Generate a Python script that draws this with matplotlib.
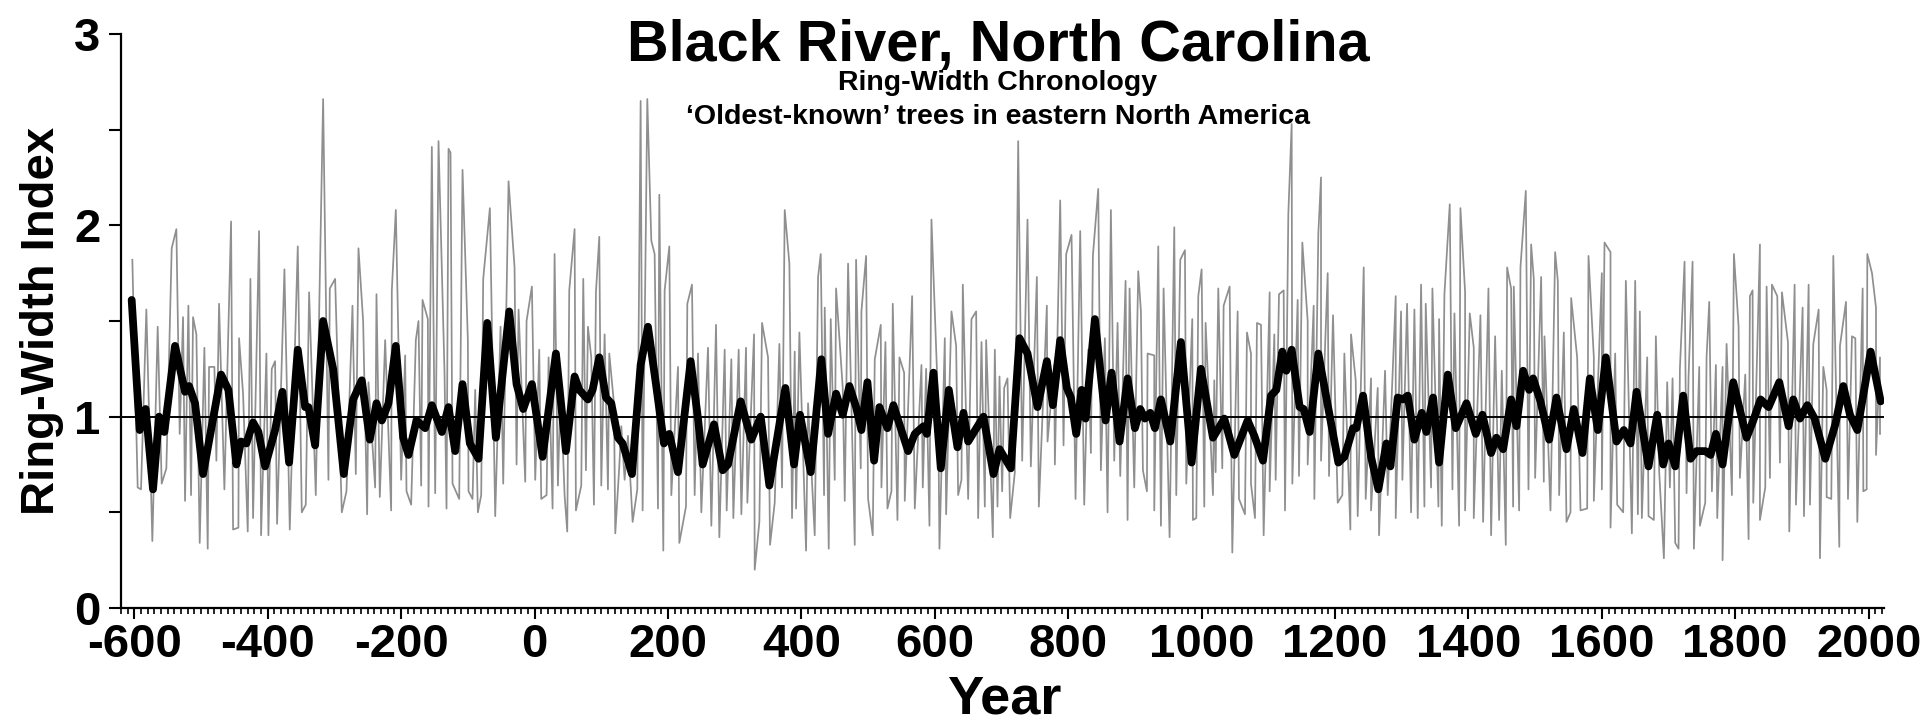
"""Black River, North Carolina ring-width chronology (annual + smoothed)."""

import numpy as np
import matplotlib
matplotlib.use("Agg")
import matplotlib.pyplot as plt
from matplotlib.ticker import MultipleLocator

plt.rcParams["font.family"] = ["Liberation Sans", "DejaVu Sans"]
plt.rcParams["font.weight"] = "bold"

# Smoothed chronology (thick black line), read at turning points
smooth_years = [
    -604, -592, -583, -572, -563, -555, -539, -524, -518, -509, -497, -482,
    -470, -459, -447, -440, -432, -422, -414, -404, -389, -378, -368, -355,
    -344, -339, -329, -317, -302, -286, -272, -259, -247, -237, -229, -219,
    -208, -197, -189, -177, -164, -154, -139, -129, -119, -108, -97, -84,
    -71, -58, -38, -27, -17, -4, 12, 32, 47, 60, 67, 80, 87, 97, 107, 115,
    125, 132, 146, 159, 170, 182, 194, 202, 215, 234, 245, 252, 269, 282,
    290, 309, 325, 339, 352, 376, 389, 398, 414, 430, 440, 452, 462, 472,
    482, 490, 499, 509, 517, 529, 538, 548, 560, 570, 583, 588, 598, 609,
    621, 634, 643, 650, 673, 688, 697, 714, 727, 739, 754, 768, 777, 788,
    798, 804, 812, 820, 826, 840, 856, 865, 877, 889, 900, 908, 915, 923,
    930, 939, 953, 969, 985, 999, 1017, 1034, 1049, 1069, 1079, 1092, 1104,
    1112, 1121, 1127, 1135, 1147, 1153, 1162, 1175, 1188, 1205, 1214, 1227,
    1232, 1242, 1254, 1265, 1277, 1283, 1294, 1302, 1309, 1319, 1330, 1337,
    1347, 1356, 1369, 1381, 1397, 1411, 1421, 1434, 1442, 1452, 1464, 1472,
    1482, 1491, 1497, 1508, 1521, 1532, 1547, 1558, 1571, 1582, 1594, 1606,
    1622, 1633, 1643, 1652, 1670, 1683, 1692, 1700, 1710, 1722, 1733, 1742,
    1755, 1763, 1771, 1781, 1797, 1817, 1827, 1838, 1850, 1866, 1880, 1887,
    1897, 1908, 1919, 1935, 1950, 1962, 1972, 1983, 2003, 2018,
]
smooth_vals = [
    1.61, 0.93, 1.04, 0.62, 1.00, 0.92, 1.37, 1.13, 1.16, 1.07, 0.70, 0.99,
    1.22, 1.14, 0.75, 0.87, 0.86, 0.97, 0.92, 0.74, 0.93, 1.13, 0.76, 1.35,
    1.05, 1.05, 0.85, 1.50, 1.25, 0.70, 1.09, 1.19, 0.88, 1.07, 0.98, 1.07,
    1.37, 0.89, 0.80, 0.98, 0.94, 1.06, 0.92, 1.05, 0.82, 1.17, 0.86, 0.78,
    1.49, 0.89, 1.55, 1.17, 1.04, 1.17, 0.79, 1.33, 0.82, 1.21, 1.14, 1.09,
    1.14, 1.31, 1.10, 1.07, 0.89, 0.86, 0.70, 1.27, 1.47, 1.17, 0.86, 0.91,
    0.71, 1.29, 0.99, 0.75, 0.96, 0.72, 0.75, 1.08, 0.88, 1.00, 0.64, 1.15,
    0.75, 1.01, 0.71, 1.30, 0.91, 1.12, 1.01, 1.16, 1.05, 0.93, 1.18, 0.77,
    1.05, 0.94, 1.06, 0.95, 0.82, 0.91, 0.95, 0.91, 1.23, 0.73, 1.14, 0.84,
    1.02, 0.87, 1.00, 0.70, 0.83, 0.73, 1.41, 1.33, 1.05, 1.29, 1.06, 1.40,
    1.15, 1.10, 0.91, 1.14, 0.99, 1.51, 0.98, 1.23, 0.87, 1.20, 0.94, 1.04,
    0.99, 1.02, 0.94, 1.09, 0.87, 1.39, 0.76, 1.25, 0.89, 0.99, 0.80, 0.98,
    0.90, 0.77, 1.11, 1.14, 1.34, 1.24, 1.35, 1.05, 1.04, 0.92, 1.33, 1.08,
    0.76, 0.79, 0.94, 0.94, 1.11, 0.79, 0.62, 0.86, 0.74, 1.10, 1.09, 1.11,
    0.88, 1.02, 0.92, 1.10, 0.76, 1.22, 0.94, 1.07, 0.91, 1.01, 0.81, 0.89,
    0.83, 1.09, 0.95, 1.24, 1.14, 1.20, 1.08, 0.88, 1.10, 0.83, 1.04, 0.81,
    1.20, 0.93, 1.31, 0.87, 0.93, 0.86, 1.13, 0.74, 1.01, 0.75, 0.86, 0.74,
    1.11, 0.78, 0.82, 0.82, 0.80, 0.91, 0.75, 1.18, 0.89, 0.98, 1.09, 1.05,
    1.18, 0.95, 1.09, 0.99, 1.06, 0.99, 0.78, 0.96, 1.16, 1.01, 0.93, 1.34,
    1.08,
]

# Annual series (thin grey line): upward spikes
peak_years = [
    -603, -582, -565, -544, -537, -527, -519, -512, -507, -495, -488, -480,
    -473, -455, -443, -437, -426, -413, -402, -394, -389, -375, -355, -338,
    -317, -307, -299, -273, -264, -257, -249, -237, -224, -214, -208, -194,
    -178, -174, -168, -160, -154, -144, -135, -129, -126, -108, -100, -89,
    -77, -67, -51, -39, -30, -24, -12, -4, 7, 21, 30, 39, 52, 60, 73, 80,
    85, 92, 97, 105, 112, 119, 130, 140, 159, 169, 175, 180, 187, 195, 202,
    215, 229, 236, 245, 260, 272, 285, 295, 306, 317, 329, 341, 350, 367,
    375, 382, 390, 397, 410, 425, 429, 435, 444, 452, 462, 470, 482, 490,
    497, 510, 519, 526, 537, 547, 554, 566, 580, 587, 595, 605, 615, 625,
    632, 642, 655, 662, 670, 677, 690, 697, 704, 709, 725, 739, 753, 768,
    779, 788, 797, 805, 818, 830, 837, 845, 855, 864, 874, 886, 892, 905,
    909, 919, 929, 935, 943, 959, 968, 975, 986, 995, 1000, 1006, 1019,
    1025, 1033, 1042, 1054, 1068, 1074, 1083, 1089, 1102, 1109, 1116, 1123,
    1130, 1135, 1144, 1151, 1159, 1168, 1175, 1179, 1189, 1197, 1214, 1224,
    1231, 1243, 1254, 1264, 1275, 1291, 1299, 1308, 1319, 1329, 1336, 1346,
    1356, 1364, 1372, 1379, 1388, 1395, 1402, 1408, 1418, 1430, 1440, 1450,
    1458, 1464, 1468, 1478, 1486, 1494, 1498, 1509, 1514, 1530, 1534, 1543,
    1554, 1563, 1580, 1588, 1600, 1604, 1613, 1620, 1636, 1650, 1657, 1668,
    1681, 1698, 1706, 1717, 1724, 1730, 1736, 1746, 1757, 1761, 1771, 1781,
    1787, 1798, 1805, 1815, 1822, 1826, 1837, 1847, 1855, 1863, 1870, 1879,
    1889, 1901, 1910, 1917, 1925, 1932, 1937, 1947, 1957, 1966, 1975, 1980,
    1991, 1998, 2005, 2011, 2017,
]
peak_vals = [
    1.82, 1.56, 1.47, 1.88, 1.98, 1.52, 1.58, 1.52, 1.43, 1.36, 1.26, 1.26,
    1.59, 2.02, 1.41, 1.12, 1.72, 1.97, 1.33, 1.25, 1.29, 1.77, 1.89, 1.65,
    2.66, 1.67, 1.72, 1.58, 1.88, 1.50, 1.18, 1.64, 1.40, 1.66, 2.08, 1.32,
    1.40, 1.50, 1.61, 1.51, 2.41, 2.44, 1.23, 2.40, 2.38, 2.29, 1.40, 1.14,
    1.72, 2.09, 1.47, 2.23, 1.78, 1.56, 1.50, 1.68, 1.35, 1.31, 1.85, 1.16,
    1.66, 1.98, 1.72, 1.47, 1.31, 1.65, 1.94, 1.43, 1.33, 1.07, 0.95, 0.90,
    2.65, 2.66, 1.92, 1.85, 2.16, 1.66, 1.89, 1.26, 1.59, 1.69, 1.33, 1.36,
    1.48, 1.35, 1.30, 1.35, 1.36, 1.43, 1.49, 1.31, 1.38, 2.08, 1.80, 1.34,
    1.44, 1.07, 1.73, 1.85, 1.57, 1.51, 1.67, 1.15, 1.80, 1.82, 1.55, 1.84,
    1.30, 1.48, 1.39, 1.59, 1.31, 1.23, 1.63, 1.27, 1.25, 2.03, 1.07, 1.41,
    1.55, 1.37, 1.69, 1.51, 1.55, 1.39, 1.40, 1.35, 1.21, 1.15, 1.20, 2.44,
    2.03, 1.73, 1.58, 1.27, 2.13, 1.85, 1.95, 1.97, 1.35, 1.84, 2.19, 1.41,
    2.08, 1.49, 1.71, 1.67, 1.76, 1.55, 1.33, 1.32, 1.89, 1.67, 1.99, 1.82,
    1.87, 1.51, 1.63, 1.77, 1.49, 1.19, 1.67, 1.58, 1.68, 1.55, 1.44, 1.33,
    1.49, 1.48, 1.65, 1.43, 1.64, 1.66, 2.06, 2.53, 1.61, 1.91, 1.50, 1.58,
    1.96, 2.25, 1.75, 1.53, 1.33, 1.43, 1.19, 1.78, 1.20, 1.15, 1.24, 1.63,
    1.55, 1.59, 1.56, 1.69, 1.59, 1.67, 1.51, 1.64, 2.11, 1.54, 2.09, 1.65,
    1.54, 1.36, 1.53, 1.67, 1.42, 1.24, 1.78, 1.67, 1.68, 1.78, 2.18, 1.90,
    1.72, 1.73, 1.42, 1.86, 1.71, 1.44, 1.62, 1.31, 1.84, 1.31, 1.75, 1.91,
    1.86, 1.33, 1.71, 1.71, 1.55, 1.31, 1.42, 1.18, 1.20, 1.25, 1.81, 1.21,
    1.81, 1.26, 1.31, 1.60, 1.27, 1.26, 1.38, 1.85, 1.47, 1.22, 1.63, 1.66,
    1.90, 1.68, 1.69, 1.63, 1.65, 1.39, 1.69, 1.57, 1.69, 1.38, 1.56, 1.26,
    1.14, 1.84, 1.37, 1.60, 1.42, 1.41, 1.67, 1.85, 1.75, 1.57, 1.31,
]

# Annual series: downward spikes
trough_years = [
    -595, -590, -573, -559, -552, -532, -524, -515, -502, -490, -477, -465,
    -452, -444, -430, -422, -410, -399, -386, -367, -349, -343, -328, -309,
    -289, -282, -268, -251, -239, -232, -215, -200, -192, -185, -170, -159,
    -149, -132, -123, -113, -99, -93, -85, -80, -59, -47, -27, -14, 1, 10,
    18, 27, 35, 45, 49, 62, 70, 77, 89, 100, 110, 121, 127, 135, 147, 154,
    162, 185, 193, 205, 217, 227, 240, 250, 265, 277, 288, 298, 310, 319,
    330, 337, 353, 360, 371, 386, 392, 407, 420, 434, 441, 450, 465, 480,
    489, 500, 507, 520, 529, 535, 544, 555, 570, 582, 592, 607, 617, 635,
    640, 650, 665, 675, 687, 694, 701, 713, 720, 731, 744, 756, 769, 780,
    793, 811, 824, 834, 849, 859, 869, 878, 889, 899, 912, 918, 929, 939,
    952, 962, 977, 987, 992, 1004, 1017, 1021, 1031, 1046, 1056, 1065, 1074,
    1080, 1093, 1102, 1111, 1125, 1136, 1146, 1159, 1169, 1179, 1191, 1204,
    1211, 1223, 1234, 1246, 1254, 1266, 1279, 1291, 1301, 1314, 1324, 1334,
    1344, 1355, 1360, 1376, 1386, 1395, 1408, 1422, 1434, 1446, 1456, 1467,
    1476, 1490, 1500, 1513, 1523, 1536, 1547, 1553, 1568, 1578, 1588, 1600,
    1613, 1623, 1632, 1645, 1654, 1660, 1670, 1678, 1686, 1693, 1702, 1710,
    1715, 1727, 1738, 1747, 1755, 1765, 1773, 1781, 1795, 1807, 1820, 1827,
    1837, 1845, 1852, 1867, 1881, 1891, 1903, 1912, 1927, 1937, 1944, 1956,
    1969, 1983, 1992, 1997, 2011, 2017,
]
trough_vals = [
    0.63, 0.62, 0.35, 0.65, 0.73, 0.91, 0.56, 0.59, 0.34, 0.31, 0.77, 0.62,
    0.41, 0.42, 0.40, 0.47, 0.38, 0.38, 0.44, 0.41, 0.50, 0.54, 0.59, 0.67,
    0.50, 0.61, 0.70, 0.49, 0.63, 0.58, 0.51, 0.67, 0.61, 0.54, 0.64, 0.53,
    0.60, 0.52, 0.65, 0.57, 0.61, 0.57, 0.50, 0.59, 0.48, 0.65, 0.75, 0.66,
    0.67, 0.57, 0.59, 0.52, 0.64, 0.59, 0.40, 0.51, 0.64, 0.72, 0.54, 0.64,
    0.62, 0.39, 0.74, 0.67, 0.45, 0.62, 0.51, 0.52, 0.30, 0.59, 0.34, 0.53,
    0.59, 0.50, 0.43, 0.37, 0.51, 0.47, 0.49, 0.55, 0.20, 0.45, 0.33, 0.55,
    0.63, 0.47, 0.52, 0.30, 0.38, 0.59, 0.31, 0.67, 0.56, 0.33, 0.73, 0.57,
    0.38, 0.63, 0.52, 0.61, 0.46, 0.56, 0.52, 0.63, 0.43, 0.31, 0.49, 0.59,
    0.67, 0.57, 0.47, 0.53, 0.37, 0.53, 0.61, 0.47, 0.71, 0.77, 0.74, 0.53,
    0.87, 0.75, 0.85, 0.57, 0.54, 0.81, 0.72, 0.50, 0.77, 0.69, 0.46, 0.63,
    0.72, 0.61, 0.51, 0.43, 0.37, 0.59, 0.65, 0.46, 0.47, 0.53, 0.59, 0.71,
    0.73, 0.29, 0.57, 0.49, 0.65, 0.47, 0.38, 0.61, 0.67, 0.51, 0.65, 0.69,
    0.75, 0.57, 0.77, 0.69, 0.55, 0.59, 0.41, 0.48, 0.57, 0.51, 0.38, 0.59,
    0.47, 0.67, 0.50, 0.47, 0.53, 0.63, 0.53, 0.43, 0.62, 0.43, 0.51, 0.47,
    0.45, 0.38, 0.46, 0.33, 0.53, 0.51, 0.62, 0.68, 0.66, 0.51, 0.59, 0.45,
    0.50, 0.51, 0.52, 0.56, 0.62, 0.42, 0.54, 0.50, 0.39, 0.49, 0.47, 0.48,
    0.46, 0.71, 0.26, 0.63, 0.34, 0.31, 0.60, 0.31, 0.43, 0.55, 0.61, 0.47,
    0.25, 0.59, 0.68, 0.36, 0.55, 0.46, 0.63, 0.68, 0.76, 0.40, 0.54, 0.48,
    0.54, 0.26, 0.58, 0.57, 0.32, 0.57, 0.45, 0.61, 0.62, 0.80, 0.91,
]

X_TICKS = list(range(-600, 2001, 200))
Y_TICKS = [0, 1, 2, 3]


def _annual_series():
    """Merge the read spike tops and bottoms into one time-ordered line."""
    years = np.concatenate([peak_years, trough_years]).astype(float)
    vals = np.concatenate([peak_vals, trough_vals])
    order = np.argsort(years, kind="stable")
    return years[order], vals[order]


def main():
    fig = plt.figure(figsize=(19.2, 7.26), dpi=100)
    ax = fig.add_axes([121 / 1920, 1 - 608 / 726, 1763 / 1920, 574 / 726])

    ann_x, ann_y = _annual_series()
    ax.plot(ann_x, ann_y, color="#8f8f8f", lw=1.25, zorder=1)
    ax.axhline(1.0, color="black", lw=1.4, zorder=2)
    ax.plot(smooth_years, smooth_vals, color="black", lw=5.6,
            solid_joinstyle="round", solid_capstyle="round", zorder=3)

    ax.set_xlim(-620, 2023)
    ax.set_ylim(0, 3)

    for side in ("top", "right"):
        ax.spines[side].set_visible(False)
    for side in ("left", "bottom"):
        ax.spines[side].set_linewidth(1.6)

    ax.set_xticks(X_TICKS)
    ax.set_xticklabels([str(t) for t in X_TICKS])
    ax.xaxis.set_minor_locator(MultipleLocator(10))
    ax.set_yticks(Y_TICKS)
    ax.yaxis.set_minor_locator(MultipleLocator(0.5))

    ax.tick_params(axis="x", which="major", length=8, width=1.5, pad=3,
                   labelsize=34)
    ax.tick_params(axis="x", which="minor", length=4.5, width=1.2)
    ax.tick_params(axis="y", which="both", length=9, width=1.5, pad=6,
                   labelsize=34)
    for lab in ax.get_xticklabels() + ax.get_yticklabels():
        lab.set_fontweight("bold")

    fig.text(42 / 1920, 1 - 321 / 726, "Ring-Width Index", rotation=90,
             ha="center", va="center", fontsize=34, fontweight="bold")
    fig.text(1004 / 1920, 1 - 714 / 726, "Year", ha="center",
             va="baseline", fontsize=39, fontweight="bold")

    fig.text(998 / 1920, 1 - 61 / 726, "Black River, North Carolina",
             ha="center", va="baseline", fontsize=41.5, fontweight="bold")
    fig.text(998 / 1920, 1 - 90 / 726, "Ring-Width Chronology",
             ha="center", va="baseline", fontsize=20.5, fontweight="bold")
    fig.text(998 / 1920, 1 - 124 / 726,
             "\u2018Oldest-known\u2019 trees in eastern North America",
             ha="center", va="baseline", fontsize=20.5, fontweight="bold")

    fig.savefig("out.png", dpi=100, facecolor="white")


if __name__ == "__main__":
    main()
